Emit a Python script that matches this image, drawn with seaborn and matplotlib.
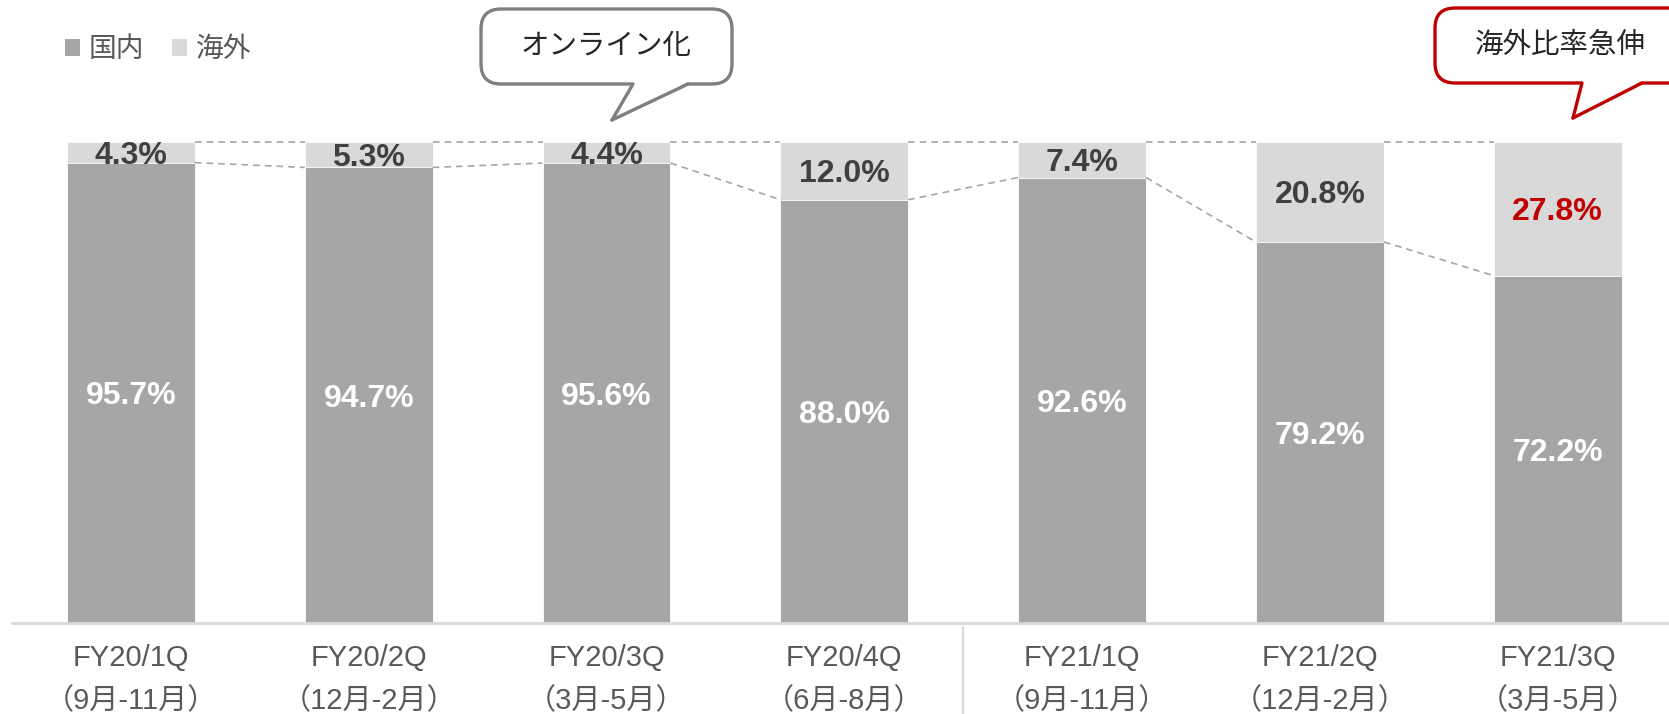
import numpy as np
import matplotlib
matplotlib.use("Agg")
import matplotlib.pyplot as plt
import seaborn as sns
from matplotlib.patches import FancyBboxPatch, Polygon, Patch
from matplotlib.lines import Line2D

# data
quarters = ["FY20/1Q", "FY20/2Q", "FY20/3Q", "FY20/4Q", "FY21/1Q", "FY21/2Q", "FY21/3Q"]
periods = ["（9月-11月）", "（12月-2月）", "（3月-5月）", "（6月-8月）",
           "（9月-11月）", "（12月-2月）", "（3月-5月）"]
domestic = [95.7, 94.7, 95.6, 88.0, 92.6, 79.2, 72.2]
overseas = [4.3, 5.3, 4.4, 12.0, 7.4, 20.8, 27.8]
total = [d + o for d, o in zip(domestic, overseas)]

DOM_C = "#A6A6A6"
OVS_C = "#D9D9D9"
TXT_C = "#595959"
RED = "#C00000"

sns.set_theme(style="white")
plt.rcParams["font.family"] = ["Liberation Sans", "Noto Sans CJK JP", "DejaVu Sans"]

W, H = 1669, 714
fig = plt.figure(figsize=(W / 100, H / 100), dpi=100)
ax = fig.add_axes([12 / W, (H - 623) / H, (W - 12) / W, 623 / H])

bw = 0.538
xlabels = [q + "\n" + p for q, p in zip(quarters, periods)]
sns.barplot(x=xlabels, y=total, color=OVS_C, saturation=1, width=bw, ax=ax,
            edgecolor="white", linewidth=0.6)
sns.barplot(x=xlabels, y=domestic, color=DOM_C, saturation=1, width=bw, ax=ax,
            edgecolor="white", linewidth=0.6)

ax.set_xlim(-0.5, 6.468)
ax.set_ylim(0, 129.5)
ax.set_yticks([])
ax.set_ylabel("")
for s in ["left", "right", "top"]:
    ax.spines[s].set_visible(False)
ax.spines["bottom"].set_color(OVS_C)
ax.spines["bottom"].set_linewidth(2)
ax.tick_params(axis="x", length=0, pad=15, labelsize=21, labelcolor=TXT_C)
for t in ax.get_xticklabels():
    t.set_linespacing(1.7)

# dashed connector lines between bars
for i in range(len(domestic) - 1):
    ax.plot([i + bw / 2, i + 1 - bw / 2], [domestic[i], domestic[i + 1]],
            ls=(0, (4, 3)), color="#A6A6A6", lw=1.2, zorder=1)
    ax.plot([i + bw / 2, i + 1 - bw / 2], [total[i], total[i + 1]],
            ls=(0, (4, 3)), color="#A6A6A6", lw=1.2, zorder=1)

# value labels
for i, (d, o) in enumerate(zip(domestic, overseas)):
    ax.text(i, d / 2, f"{d:.1f}%", ha="center", va="center_baseline", color="white",
            fontsize=23, fontweight="bold")
    c = RED if i == len(overseas) - 1 else "#404040"
    ax.text(i, d + o / 2, f"{o:.1f}%", ha="center", va="center_baseline", color=c,
            fontsize=23, fontweight="bold")

# separator between fiscal years
ax.plot([3.5, 3.5], [-0.006, -0.15], transform=ax.get_xaxis_transform(), color=OVS_C,
        lw=1.5, clip_on=False)

# legend
handles = [Patch(facecolor=DOM_C, edgecolor="none", label="国内"),
           Patch(facecolor=OVS_C, edgecolor="none", label="海外")]
fig.legend(handles=handles, loc="upper left", bbox_to_anchor=(40 / W, 1 - 12 / H),
           ncol=2, frameon=False, fontsize=20, handlelength=0.55, handleheight=0.55,
           handletextpad=0.3, columnspacing=1.0, labelcolor=TXT_C)


def px(x, y):
    return x / W, 1 - y / H


def callout(x0, y0, x1, y1, tail, color, text, tx):
    bl = px(x0, y1)
    tr = px(x1, y0)
    box = FancyBboxPatch(bl, tr[0] - bl[0], tr[1] - bl[1],
                         boxstyle="round,pad=0,rounding_size=0.012",
                         transform=fig.transFigure, facecolor="white",
                         edgecolor=color, lw=2.4, clip_on=False,
                         mutation_aspect=W / H)
    fig.add_artist(box)
    (ax_, ay_), (tx_, ty_), (bx_, by_) = tail
    poly = Polygon([px(ax_, ay_ - 2), px(tx_, ty_), px(bx_, by_ - 2)],
                   closed=True, transform=fig.transFigure, facecolor="white",
                   edgecolor="none", zorder=5)
    fig.add_artist(poly)
    for (a, b) in [((ax_, ay_), (tx_, ty_)), ((tx_, ty_), (bx_, by_))]:
        p1, p2 = px(*a), px(*b)
        fig.add_artist(Line2D([p1[0], p2[0]], [p1[1], p2[1]], transform=fig.transFigure,
                              color=color, lw=2.4, zorder=6, solid_capstyle="round"))
    cx, cy = px(tx, (y0 + y1) / 2)
    fig.text(cx, cy, text, ha="center", va="center", fontsize=20.5, color="#262626")


callout(481, 9, 732, 84, [(633, 84), (612, 120), (688, 84)], "#7F7F7F", "オンライン化", 606)
callout(1435, 8, 1700, 83, [(1582, 83), (1573, 118), (1642, 83)], RED, "海外比率急伸", 1560)

fig.savefig("out.png", dpi=100)
